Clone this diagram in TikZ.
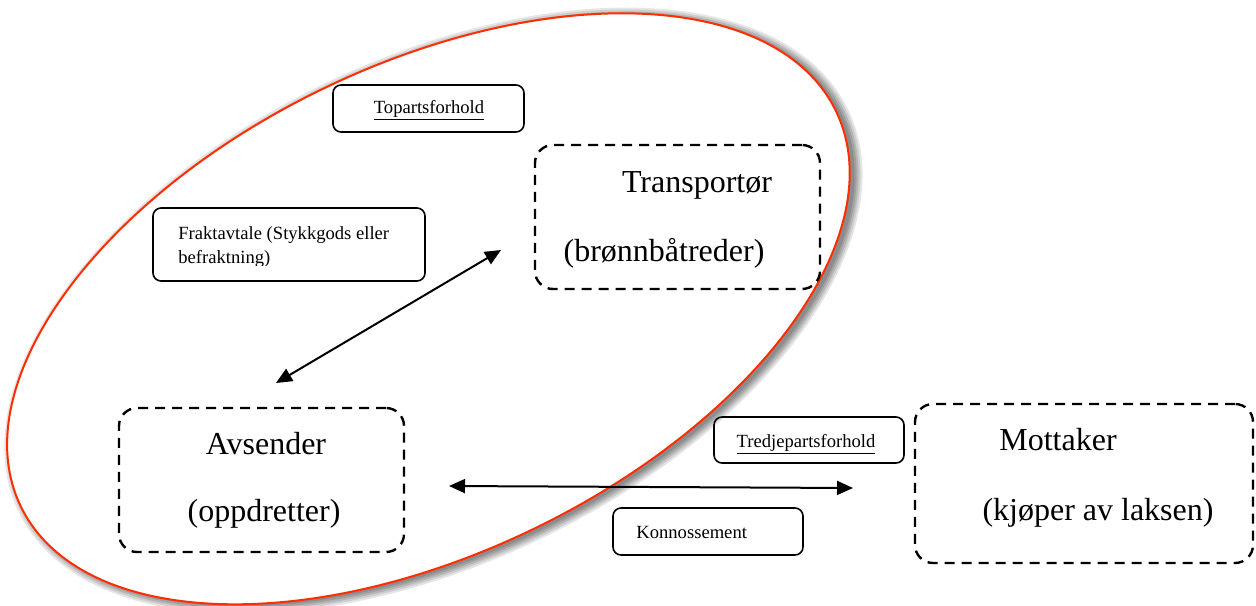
\documentclass[tikz,border=0pt]{standalone}
\usepackage{fontspec}
\setmainfont{Liberation Serif}
\usetikzlibrary{arrows.meta,fit}
\definecolor{ellred}{RGB}{255,45,0}
\tikzset{
  dbox/.style={draw, line width=1.2pt, dash pattern=on 5pt off 3.5pt, rounded corners=9pt, inner sep=0pt},
  sbox/.style={draw, line width=0.8pt, rounded corners=4pt, inner sep=0pt},
  big/.style={font=\fontsize{16}{19}\selectfont, inner sep=0pt},
  small/.style={font=\fontsize{9.3}{12}\selectfont, inner sep=0pt},
  link/.style={line width=1pt, {Triangle[length=8pt,width=7pt]}-{Triangle[length=8pt,width=7pt]}},
  ellshape/.style={shift={(428.4,308.8)}, rotate=25.9},
}
\begin{document}
\begin{tikzpicture}[x=0.5pt, y=-0.5pt]
\useasboundingbox (0,0) rectangle (1256,605);
% ellipse with soft shadow
\foreach \d/\o in {8/0.10, 6/0.10, 4/0.12, 2/0.12, 0/0.12} {
  \fill[black, opacity=\o, shift={(433.4,310.8)}, rotate=25.9] (0,0) ellipse [x radius=453+\d, y radius=244+\d];
}
\fill[white, ellshape] (0,0) ellipse [x radius=453, y radius=244];
\draw[ellred, line width=1pt, ellshape] (0,0) ellipse [x radius=453, y radius=244];

% dashed party boxes
\node[dbox, fit={(535,145) (820,289)}] (trans) {};
\node[dbox, fit={(119,408) (404,552)}] (avs) {};
\node[dbox, fit={(915,404) (1253,563)}] (mott) {};

% solid label boxes
\node[sbox, fit={(333,85) (524,132)}] (topb) {};
\node[sbox, fit={(153,208) (425,281)}] (frakb) {};
\node[sbox, fit={(714,417) (904,463)}] (tredb) {};
\node[sbox, fit={(613,508) (803,555)}] (konb) {};

% big texts
\node[big, anchor=base] (transT) at (697,192) {Transportør};
\node[big, anchor=base] (transB) at (664,261) {(brønnbåtreder)};
\node[big, anchor=base] (avsT) at (266,454) {Avsender};
\node[big, anchor=base] (avsB) at (264,521) {(oppdretter)};
\node[big, anchor=base] (mottT) at (1058,450) {Mottaker};
\node[big, anchor=base] (mottB) at (1098,520) {(kjøper av laksen)};

% small texts
\node[small, anchor=base] (topT) at (429,113) {\underline{Topartsforhold}};
\node[small, anchor=base west] (frakT1) at (178,239) {Fraktavtale (Stykkgods eller};
\begin{scope}
  \clip (150,205) rectangle (430,265.5);
  \node[small, anchor=base west] (frakT2) at (178,263.5) {befraktning)};
\end{scope}
\node[small, anchor=base] (tredT) at (806,447) {\underline{Tredjepartsforhold}};
\node[small, anchor=base west] (konT) at (636,538) {Konnossement};

% connectors
\coordinate (dA) at (276,383);
\coordinate (dB) at (501,250);
\draw[link] (dA) -- (dB);
\coordinate (hA) at (449,486);
\coordinate (hB) at (853,488);
\draw[link] (hA) -- (hB);
\end{tikzpicture}
\end{document}
